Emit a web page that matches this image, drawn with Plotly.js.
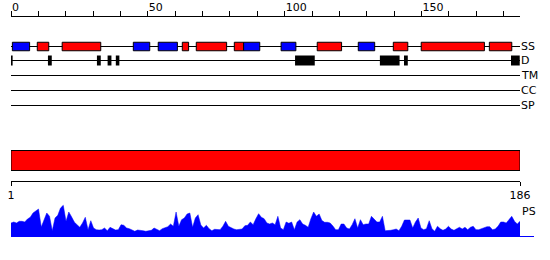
<!DOCTYPE html>
<html>
<head>
<meta charset="utf-8">
<script src="https://cdn.plot.ly/plotly-3.0.1.min.js"></script>
<style>html,body{margin:0;padding:0;background:#fff}#chart{width:550px;height:260px}</style>
</head>
<body>
<div id="chart"></div>
<script>
// ---------- data ----------
var proteinLength = 186;
var topTicks = [0, 50, 100, 150];
var bottomTicks = [1, 186];
var trackLabels = ['SS', 'D', 'TM', 'CC', 'SP'];

// secondary structure segments (H = helix, blue; E = strand, red)
var ssStart = [0.5, 9.6, 18.7, 44.7, 53.8, 62.6, 67.7, 81.6, 85.0, 98.7, 111.9, 126.9, 139.7, 149.9, 174.8];
var ssEnd   = [6.8, 13.8, 32.8, 50.7, 60.8, 64.9, 78.8, 85.0, 90.9, 104.1, 120.8, 132.9, 145.0, 173.0, 183.0];
var ssType  = ['H', 'E', 'E', 'H', 'H', 'E', 'E', 'E', 'H', 'H', 'E', 'H', 'E', 'E', 'E'];

// disordered regions
var disStart = [-0.3, 13.5, 31.4, 35.3, 38.3, 103.8, 134.8, 143.6, 182.7];
var disEnd   = [0.6, 14.9, 32.8, 36.7, 39.6, 111.0, 142.0, 145.0, 185.9];

// domain bar
var domStart = [1];
var domEnd = [186];

// PS profile (per residue)
var psValues = [
  13, 14, 13, 14.7, 14.7, 14, 17, 18.7, 23, 25.3,
  27, 9, 16, 23, 19.7, 5.3, 18, 20.7, 28, 30.7,
  14.7, 24, 19.3, 14, 11.3, 8.7, 13, 18.7, 6.3, 15.3,
  8, 6.3, 6, 6.3, 8, 5.3, 8.7, 7, 6, 6.3,
  11.3, 10.7, 8, 7.3, 6.3, 4.7, 6, 6, 5.3, 4.7,
  5, 5.7, 8, 7, 5.3, 7.3, 8.7, 9.3, 12, 9.7,
  24, 9.7, 16.3, 18, 22, 23, 8.7, 18, 21.3, 11,
  8, 10.7, 7.3, 5.3, 6.7, 6.5, 6.3, 9.7, 14.7, 9.7,
  8, 7, 6.3, 6.3, 7, 10.3, 10.7, 14, 11.3, 17.3,
  22.3, 18.7, 17.3, 13, 12, 13, 11.3, 19.7, 8, 6.3,
  14, 12.7, 14, 6.3, 14, 16.3, 12, 10.7, 8.7, 17.3,
  24, 19.7, 22, 15.5, 13.7, 13.7, 13, 10, 6.3, 6.3,
  12, 12, 8, 7, 11.3, 17.3, 8, 16.3, 11.3, 12,
  12, 19.7, 16.3, 14, 14, 19.7, 5.3, 5.3, 5.7, 6.3,
  7, 5.3, 9.7, 16, 16, 16, 8, 14, 18, 8,
  6.3, 7.3, 15.3, 7.3, 4.7, 9.7, 7.3, 5.7, 7, 9.7,
  7, 5.7, 7.3, 8.7, 7, 8.7, 6.3, 8.7, 9.7, 6.3,
  6.3, 7.3, 8.7, 9.3, 9.3, 6.3, 7, 9.7, 14, 14,
  13, 16.3, 19.7, 14.7, 12, 14.7
];
var residues = psValues.map(function (v, i) { return i + 1; });

// ---------- layout helpers (pixel positions) ----------
var W = 550, H = 260;
var rowY = [46.5, 60.5, 75.5, 90.5, 105.5];
var xL = 11 / W, xR = 520 / W;
var pxPerRes = 509 / (proteinLength - 1);

var traces = [];
// track lines
traces.push({
  type: 'bar', orientation: 'h', xaxis: 'x', yaxis: 'y',
  y: rowY, x: rowY.map(function () { return proteinLength; }), base: rowY.map(function () { return 0; }),
  width: 1, marker: { color: '#000', line: { width: 0 } }, hoverinfo: 'skip'
});
// secondary structure boxes
traces.push({
  type: 'bar', orientation: 'h', xaxis: 'x', yaxis: 'y',
  y: ssStart.map(function () { return rowY[0]; }),
  base: ssStart,
  x: ssStart.map(function (s, i) { return ssEnd[i] - s; }),
  width: 8.5,
  marker: { color: ssType.map(function (t) { return t === 'H' ? '#0000ff' : '#ff0000'; }), line: { color: '#000', width: 1 } },
  hoverinfo: 'skip'
});
// disorder blocks
traces.push({
  type: 'bar', orientation: 'h', xaxis: 'x', yaxis: 'y',
  y: disStart.map(function () { return rowY[1]; }),
  base: disStart,
  x: disStart.map(function (s, i) { return disEnd[i] - s; }),
  width: 10,
  marker: { color: '#000', line: { width: 0 } },
  hoverinfo: 'skip'
});
// domain bar
traces.push({
  type: 'bar', orientation: 'h', xaxis: 'x2', yaxis: 'y',
  y: [160.5], base: domStart, x: domStart.map(function (s, i) { return domEnd[i] - s; }),
  width: 20,
  marker: { color: '#ff0000', line: { color: '#000', width: 1 } },
  hoverinfo: 'skip'
});
// PS profile
traces.push({
  type: 'scatter', mode: 'lines', xaxis: 'x3', yaxis: 'y2',
  x: residues, y: psValues, fill: 'tozeroy', fillcolor: '#0000ff',
  line: { color: '#0000ff', width: 0.5 }, hoverinfo: 'skip'
});

var annotations = trackLabels.map(function (t, i) {
  return { text: t, xref: 'paper', x: 520 / W, xanchor: 'left', yref: 'y', y: rowY[i], yanchor: 'middle',
           showarrow: false, borderpad: 0, font: { size: 11, color: '#000' } };
});
annotations.push({ text: 'PS', xref: 'paper', x: 521 / W, xanchor: 'left', yref: 'y', y: 211, yanchor: 'middle',
                   showarrow: false, borderpad: 0, font: { size: 11, color: '#000' } });

var layout = {
  width: W, height: H,
  margin: { l: 0, r: 0, t: 0, b: 0, pad: 0 },
  paper_bgcolor: '#fff', plot_bgcolor: 'rgba(0,0,0,0)',
  showlegend: false, barmode: 'overlay',
  font: { family: 'DejaVu Sans', size: 11, color: '#000' },
  xaxis: {
    domain: [xL, xR], range: [0, proteinLength], anchor: 'free', position: 1 - 15.5 / H, side: 'top',
    showline: true, linecolor: '#000', linewidth: 1, showgrid: false, zeroline: false,
    ticks: 'outside', ticklen: 5, tickcolor: '#000', tickwidth: 1,
    tickvals: topTicks, ticktext: topTicks.map(String), ticklabelposition: 'outside right',
    minor: { dtick: 10, tick0: 0, ticks: 'outside', ticklen: 5, tickcolor: '#000', tickwidth: 1, showgrid: false },
    tickfont: { size: 11 }, fixedrange: true
  },
  yaxis: { domain: [0, 1], range: [H, 0], visible: false, anchor: 'x', fixedrange: true },
  xaxis2: {
    domain: [xL, xR], range: [1, proteinLength], anchor: 'free', position: 1 - 181 / H, side: 'bottom',
    overlaying: 'x',
    showline: true, linecolor: '#000', linewidth: 1, showgrid: false, zeroline: false,
    ticks: 'outside', ticklen: 4, tickcolor: '#000', tickwidth: 1,
    tickvals: bottomTicks, ticktext: bottomTicks.map(String), tickfont: { size: 11 }, fixedrange: true
  },
  xaxis3: {
    domain: [xL, 534 / W], range: [1, 1 + 523 / pxPerRes], anchor: 'y2',
    showline: true, linecolor: '#0000ff', linewidth: 1, showgrid: false, zeroline: false,
    ticks: '', showticklabels: false, fixedrange: true
  },
  yaxis2: { domain: [1 - 236 / H, 1 - 200 / H], range: [0, 36], anchor: 'x3', visible: false, fixedrange: true },
  annotations: annotations
};

Plotly.newPlot('chart', traces, layout, { staticPlot: true, displayModeBar: false });
</script>
</body>
</html>
